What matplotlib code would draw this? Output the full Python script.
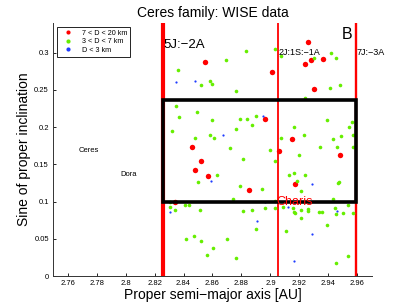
import matplotlib
matplotlib.use("Agg")
import matplotlib.pyplot as plt
from matplotlib.patches import Rectangle

plt.rcParams['font.family'] = ['Liberation Sans', 'DejaVu Sans']

# Large asteroids 7 < D < 20 km
red_a = [2.855, 2.901, 2.926, 2.924, 2.928, 2.936, 2.930, 2.896, 2.915, 2.846,
         2.906, 2.948, 2.852, 2.848, 2.857, 2.885, 2.917, 2.834]
red_s = [0.288, 0.274, 0.314, 0.285, 0.290, 0.291, 0.251, 0.211, 0.184, 0.174,
         0.168, 0.162, 0.154, 0.142, 0.135, 0.116, 0.124, 0.099]

# Medium asteroids 3 < D < 7 km
green_a = [2.883, 2.903, 2.907, 2.869, 2.836, 2.858, 2.860, 2.852, 2.876, 2.942,
           2.945, 2.930, 2.941, 2.948, 2.924, 2.835, 2.837, 2.849, 2.832, 2.860,
           2.879, 2.884, 2.890, 2.887, 2.876, 2.858, 2.861, 2.848, 2.872, 2.916,
           2.907, 2.923, 2.939, 2.956, 2.9545, 2.957, 2.9485, 2.9435, 2.946, 2.934,
           2.957, 2.900,
           2.881, 2.903, 2.920, 2.863, 2.879, 2.850, 2.894, 2.913, 2.916, 2.924,
           2.918, 2.921, 2.947, 2.9465, 2.874, 2.831, 2.831, 2.834, 2.841, 2.844,
           2.8515, 2.881, 2.8876, 2.8963, 2.903, 2.9034, 2.909, 2.9154, 2.9166, 2.9172,
           2.921, 2.9257, 2.926, 2.9338, 2.9356, 2.9432, 2.9444, 2.945, 2.950, 2.9568,
           2.9536, 2.921, 2.939, 2.9106, 2.8897, 2.870, 2.8605, 2.852, 2.8474, 2.8416,
           2.856, 2.876, 2.9536, 2.9455]
green_s = [0.302, 0.305, 0.296, 0.290, 0.277, 0.2625, 0.258, 0.256, 0.249, 0.300,
           0.293, 0.293, 0.252, 0.257, 0.239, 0.229, 0.214, 0.221, 0.195, 0.210,
           0.211, 0.211, 0.215, 0.2025, 0.198, 0.190, 0.1855, 0.1855, 0.172, 0.200,
           0.186, 0.1895, 0.209, 0.207, 0.200, 0.190, 0.188, 0.184, 0.1734, 0.173,
           0.174, 0.169,
           0.157, 0.1546, 0.162, 0.1353, 0.1214, 0.1259, 0.1174, 0.1358, 0.138, 0.1353,
           0.1272, 0.1138, 0.1268, 0.125, 0.103, 0.099, 0.0927, 0.0892, 0.095, 0.095,
           0.0883, 0.0878, 0.0883, 0.091, 0.101, 0.0918, 0.0923, 0.0918, 0.0865, 0.0842,
           0.0887, 0.0905, 0.0878, 0.0865, 0.0865, 0.104, 0.0918, 0.0833, 0.0842, 0.0842,
           0.0959, 0.0775, 0.0685, 0.0605, 0.0632, 0.0497, 0.0376, 0.047, 0.0533, 0.0493,
           0.0282, 0.0237, 0.0269, 0.0179]

# Small asteroids D < 3 km
blue_a = [2.835, 2.848, 2.867, 2.895, 2.859, 2.929, 2.831, 2.896, 2.912, 2.891,
          2.929, 2.946, 2.916]
blue_s = [0.261, 0.262, 0.190, 0.215, 0.128, 0.123, 0.086, 0.099, 0.093, 0.074,
          0.056, 0.088, 0.020]

legend_labels = ['7 < D < 20 km', '3 < D < 7 km', 'D < 3 km']

resonances = [2.826, 2.9052, 2.959]
resonance_labels = ['5J:\u22122A', '2J:1S:\u22121A', '7J:\u22123A']

box_a = [2.826, 2.959]
box_s = [0.0988, 0.2366]

xticks = [2.76, 2.78, 2.80, 2.82, 2.84, 2.86, 2.88, 2.90, 2.92, 2.94, 2.96]
xticklabels = ['2.76', '2.78', '2.8', '2.82', '2.84', '2.86', '2.88', '2.9', '2.92', '2.94', '2.96']
yticks = [0, 0.05, 0.1, 0.15, 0.2, 0.25, 0.3]
yticklabels = ['0', '0.05', '0.1', '0.15', '0.2', '0.25', '0.3']

fig = plt.figure(figsize=(4.15, 3.02), dpi=100)
ax = fig.add_axes([0.128, 0.086, 0.768, 0.838])

RED = '#ff0000'
GREEN = '#66ee00'
BLUE = '#1e3cff'

# resonance lines
ax.plot([resonances[0]] * 2, [0, 0.34], color=RED, lw=3.0, zorder=1.5, solid_capstyle='butt')
ax.plot([resonances[1]] * 2, [0, 0.34], color=RED, lw=1.3, zorder=1.5, solid_capstyle='butt')
ax.plot([resonances[2]] * 2, [0, 0.34], color=RED, lw=1.7, zorder=1.5, solid_capstyle='butt')

ax.plot(red_a, red_s, 'o', color=RED, ms=3.9, mec='none', zorder=3, label=legend_labels[0])
ax.plot(green_a, green_s, 'o', color=GREEN, ms=2.6, mec='none', zorder=3, label=legend_labels[1])
ax.plot(blue_a, blue_s, 'o', color=BLUE, ms=1.6, mec='none', zorder=3, label=legend_labels[2])

ax.add_patch(Rectangle((box_a[0], box_s[0]), box_a[1] - box_a[0], box_s[1] - box_s[0],
                       fill=False, ec='black', lw=2.6, zorder=4))

ax.text(resonances[0] + 0.0002, 0.310, resonance_labels[0], fontsize=9.5, va='center', ha='left', zorder=5)
ax.text(resonances[1] + 0.0003, 0.2997, resonance_labels[1], fontsize=6.5, va='center', ha='left', zorder=5)
ax.text(resonances[2] + 0.0003, 0.2997, resonance_labels[2], fontsize=6.5, va='center', ha='left', zorder=5)
ax.text(2.953, 0.3244, 'B', fontsize=11.5, va='center', ha='center', zorder=5)
ax.text(2.9041, 0.0999, 'Charis', fontsize=9, color=RED, va='center', ha='left', zorder=5)
ax.text(2.7676, 0.168, 'Ceres', fontsize=5.5, va='center', ha='left')
ax.text(2.7963, 0.1367, 'Dora', fontsize=5.5, va='center', ha='left')

ax.set_xlim(2.75, 2.97)
ax.set_ylim(0, 0.34)
ax.set_xticks(xticks)
ax.set_xticklabels(xticklabels)
ax.set_yticks(yticks)
ax.set_yticklabels(yticklabels)
ax.tick_params(direction='in', length=2.5, width=0.6, labelsize=5.5, pad=3)
for side in ['top', 'right']:
    ax.spines[side].set_visible(False)
for side in ['left', 'bottom']:
    ax.spines[side].set_linewidth(0.7)
    ax.spines[side].set_color('#333333')

ax.set_xlabel('Proper semi\u2212major axis [AU]', fontsize=10, labelpad=0.5)
ax.set_ylabel('Sine of proper inclination', fontsize=10, labelpad=2)
ax.set_title('Ceres family: WISE data', fontsize=10, pad=4)

leg = ax.legend(loc='upper left', bbox_to_anchor=(0.0125, 0.984), borderaxespad=0,
                fontsize=5.2, fancybox=False, edgecolor='black', framealpha=1,
                handlelength=2.2, handletextpad=0.8, borderpad=0.4, labelspacing=0.2,
                markerscale=1.0)
leg.get_frame().set_linewidth(0.6)
for h in leg.legend_handles:
    h.set_markersize(3.0)

fig.savefig('out.png', dpi=100)
